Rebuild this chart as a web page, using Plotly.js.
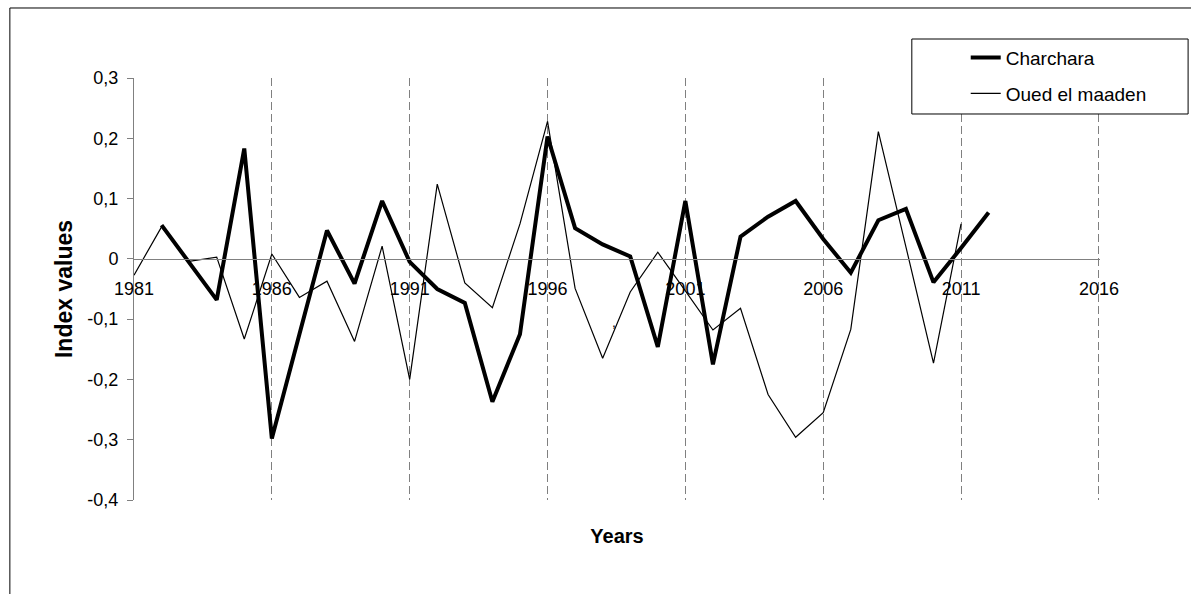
<!DOCTYPE html>
<html>
<head>
<meta charset="utf-8">
<script src="https://cdn.plot.ly/plotly-3.0.1.min.js"></script>
<style>
  html, body { margin: 0; padding: 0; background: #ffffff; }
  #chart { width: 1191px; height: 594px; }
</style>
</head>
<body>
<div id="chart"></div>
<script>
// ---- data ----
var charcharaYears = [1982,1983,1984,1985,1986,1987,1988,1989,1990,1991,1992,1993,1994,1995,1996,1997,1998,1999,2000,2001,2002,2003,2004,2005,2006,2007,2008,2009,2010,2011,2012];
var charcharaValues = [0.056,-0.007,-0.068,0.183,-0.298,-0.125,0.047,-0.041,0.096,-0.005,-0.05,-0.073,-0.237,-0.125,0.203,0.051,0.024,0.004,-0.146,0.096,-0.175,0.037,0.07,0.096,0.033,-0.023,0.064,0.083,-0.039,0.018,0.077];

var ouedYears = [1981,1982,1983,1984,1985,1986,1987,1988,1989,1990,1991,1992,1993,1994,1995,1996,1997,1998,1999,2000,2001,2002,2003,2004,2005,2006,2007,2008,2009,2010,2011];
var ouedValues = [-0.027,0.053,-0.004,0.003,-0.133,0.008,-0.064,-0.037,-0.137,0.021,-0.2,0.124,-0.04,-0.081,0.058,0.228,-0.049,-0.165,-0.055,0.011,-0.053,-0.118,-0.082,-0.225,-0.296,-0.255,-0.117,0.211,0.02,-0.173,0.058];

var xTickVals = [1981,1986,1991,1996,2001,2006,2011,2016];
var xTickText = ["1981","1986","1991","1996","2001","2006","2011","2016"];
var gridYears = [1986,1991,1996,2001,2006,2011,2016];
var yTickVals = [0.3,0.2,0.1,0,-0.1,-0.2,-0.3,-0.4];
var yTickText = ["0,3","0,2","0,1","0","-0,1","-0,2","-0,3","-0,4"];

var seriesNames = ["Charchara","Oued el maaden"];

// ---- chart ----
var FONT = "Liberation Sans, Arial, sans-serif";
var GREY = "#808080";
var X_RANGE = [1981, 2016.04];

var traces = [
  {
    x: charcharaYears, y: charcharaValues, name: seriesNames[0],
    type: "scatter", mode: "lines", xaxis: "x", yaxis: "y",
    line: { color: "#000000", width: 4 }, legendgroup: "a"
  },
  {
    x: ouedYears, y: ouedValues, name: seriesNames[1],
    type: "scatter", mode: "lines", xaxis: "x2", yaxis: "y",
    line: { color: "#000000", width: 1.2 }, legendgroup: "b"
  }
];

var layout = {
  width: 1191, height: 594,
  paper_bgcolor: "#ffffff", plot_bgcolor: "#ffffff",
  font: { family: FONT, size: 18, color: "#000000" },
  margin: { l: 134, r: 91, t: 78, b: 94, pad: 0 },
  showlegend: true,
  legend: {
    x: 0.861, y: 1.093, xanchor: "left", yanchor: "top",
    bgcolor: "rgba(0,0,0,0)", borderwidth: 0,
    font: { family: FONT, size: 19, color: "#000000" },
    tracegroupgap: 8, traceorder: "grouped"
  },
  xaxis: {
    range: X_RANGE, autorange: false,
    tickmode: "array", tickvals: gridYears, showticklabels: false,
    ticks: "", showline: false, zeroline: false,
    showgrid: true, gridcolor: GREY, gridwidth: 1, griddash: "8px,4px",
    title: { text: "Years", font: { family: FONT, size: 20, color: "#000000", weight: "bold" }, standoff: 28 },
    automargin: false
  },
  xaxis2: {
    overlaying: "x", anchor: "free", position: 0.5714286,
    range: X_RANGE, autorange: false,
    tickmode: "array", tickvals: xTickVals, ticktext: xTickText,
    ticks: "", showline: true, linecolor: GREY, linewidth: 1,
    showgrid: false, zeroline: false,
    ticklabelstandoff: 14,
    tickfont: { family: FONT, size: 18, color: "#000000" },
    automargin: false
  },
  yaxis: {
    range: [-0.4, 0.3], autorange: false,
    tickmode: "array", tickvals: yTickVals, ticktext: yTickText,
    ticks: "outside", ticklen: 6, tickcolor: GREY, tickwidth: 1,
    showline: true, linecolor: GREY, linewidth: 1,
    showgrid: false, zeroline: false,
    ticklabelstandoff: 5,
    tickfont: { family: FONT, size: 18, color: "#000000" },
    title: { text: "Index values", font: { family: FONT, size: 23, color: "#000000", weight: "bold" }, standoff: 8 },
    automargin: false
  },
  shapes: [
    { type: "rect", xref: "paper", yref: "paper", x0: -0.1285, x1: 1.12, y0: -0.25, y1: 1.1659,
      line: { color: "#000000", width: 1 }, fillcolor: "rgba(0,0,0,0)", layer: "below" },
    { type: "rect", xref: "paper", yref: "paper", x0: 0.8052, x1: 1.0912, y0: 0.9147, y1: 1.0924,
      line: { color: "#000000", width: 1 }, fillcolor: "#ffffff", layer: "above" }
  ],
  annotations: [
    { xref: "x", yref: "y", x: 1998.4, y: -0.104, text: ",", showarrow: false,
      font: { family: FONT, size: 14, color: "#000000" } }
  ]
};

Plotly.newPlot("chart", traces, layout, { displayModeBar: false, staticPlot: true });
</script>
</body>
</html>
